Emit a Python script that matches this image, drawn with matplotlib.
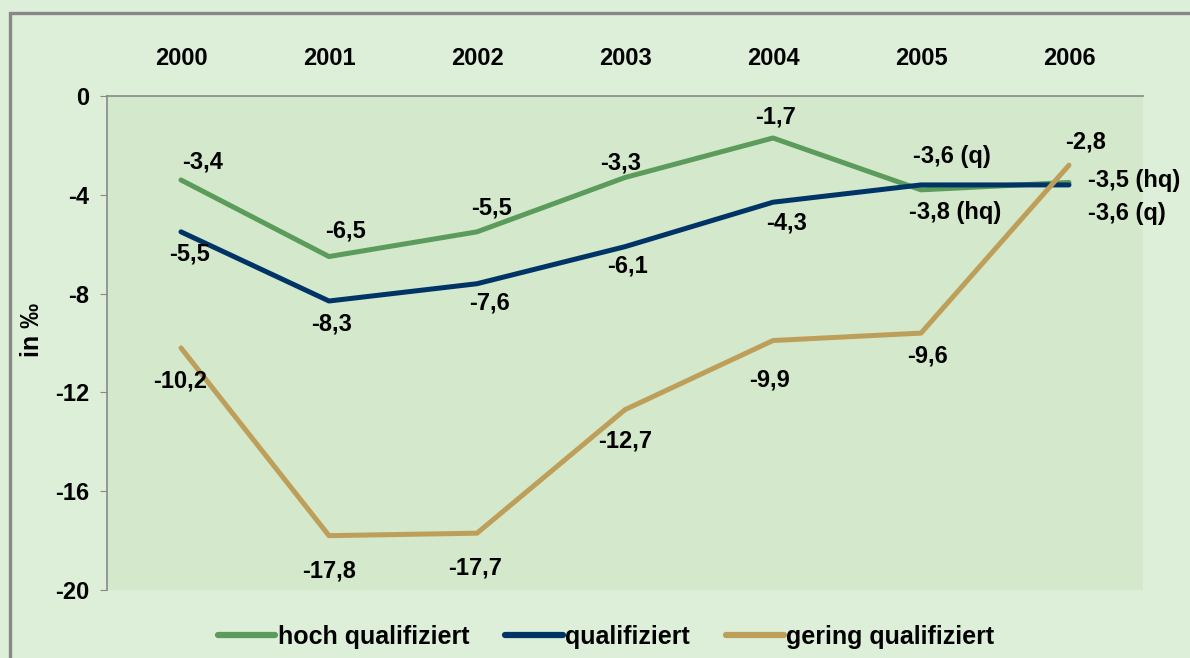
# Arbeitslosenquote nach Qualifikation (Veränderung in Promille)
import matplotlib.pyplot as plt
import numpy as np
from matplotlib.patches import Rectangle

plt.rcParams['font.family'] = ['Liberation Sans', 'DejaVu Sans']
plt.rcParams['font.weight'] = 'bold'

# Daten
years = ['2000', '2001', '2002', '2003', '2004', '2005', '2006']
hoch = [-3.4, -6.5, -5.5, -3.3, -1.7, -3.8, -3.5]
qual = [-5.5, -8.3, -7.6, -6.1, -4.3, -3.6, -3.6]
gering = [-10.2, -17.8, -17.7, -12.7, -9.9, -9.6, -2.8]
series_names = ['hoch qualifiziert', 'qualifiziert', 'gering qualifiziert']
hoch_suffix = ['', '', '', '', '', ' (hq)', ' (hq)']
qual_suffix = ['', '', '', '', '', ' (q)', ' (q)']
gering_suffix = ['', '', '', '', '', '', '']
yticks = [0, -4, -8, -12, -16, -20]

# Farben und Beschriftungsversatz (in Pixel)
colors = ['#5B9B5B', '#003366', '#BE9F5A']
hoch_off = [(22, 18), (16, 26), (15, 24), (-4, 15), (2, 21), (34, -23), (65, 2)]
qual_off = [(8, -22), (3, -23), (12, -19), (2, -19), (14, -21), (31, 28), (58, -29)]
gering_off = [(-1, -33), (0, -35), (-2, -35), (0, -31), (-4, -39), (6, -23), (17, 23)]

fig = plt.figure(figsize=(11.9, 6.58), dpi=100)
fig.patch.set_facecolor('#DDEFD8')
ax = fig.add_axes([107 / 1190, 1 - 590 / 658, (1143 - 107) / 1190, (590 - 96) / 658])
ax.set_facecolor('#D4E8CB')

# Rahmen um die Grafik
fig.patches.append(Rectangle((9.5 / 1190, -0.1), 1.2, 1.1 - 13.5 / 658,
                             transform=fig.transFigure, fill=False,
                             edgecolor='#888888', linewidth=2.4))

x = np.arange(len(years))
lines = []
for vals, suf, offs, col in [(hoch, hoch_suffix, hoch_off, colors[0]),
                             (qual, qual_suffix, qual_off, colors[1]),
                             (gering, gering_suffix, gering_off, colors[2])]:
    lines += ax.plot(x, vals, color=col, linewidth=3.6, solid_capstyle='round')
    for xi, v, s, (dx, dy) in zip(x, vals, suf, offs):
        txt = ('%.1f' % v).replace('.', ',') + s
        ax.annotate(txt, (xi, v), xytext=(dx, dy), textcoords='offset pixels',
                    ha='center', va='center', fontsize=17, fontweight='bold')

ax.set_xlim(-0.5, 6.5)
ax.set_ylim(-20, 0)
ax.set_yticks(yticks)
ax.set_yticklabels([str(t) for t in yticks], fontsize=17, fontweight='bold')
ax.xaxis.tick_top()
ax.set_xticks(x)
ax.set_xticklabels(years, fontsize=17, fontweight='bold')
ax.tick_params(axis='x', length=0, pad=19)
ax.tick_params(axis='y', length=5, pad=8, color='#888888')
for side in ['bottom', 'right']:
    ax.spines[side].set_visible(False)
for side in ['top', 'left']:
    ax.spines[side].set_color('#888888')
    ax.spines[side].set_linewidth(1.2)

fig.text(32 / 1190, 1 - 330 / 658, 'in ‰', rotation=90, ha='center', va='center',
         fontsize=18, fontweight='bold')

leg = fig.legend(lines, series_names, loc='center', bbox_to_anchor=(606 / 1190, 1 - 637 / 658),
                 ncol=3, frameon=False, fontsize=18, handlelength=2.3, handletextpad=0.1,
                 columnspacing=1.45, borderpad=0)
for h in leg.legend_handles:
    h.set_linewidth(4.5)

plt.savefig('out.png', dpi=100)
